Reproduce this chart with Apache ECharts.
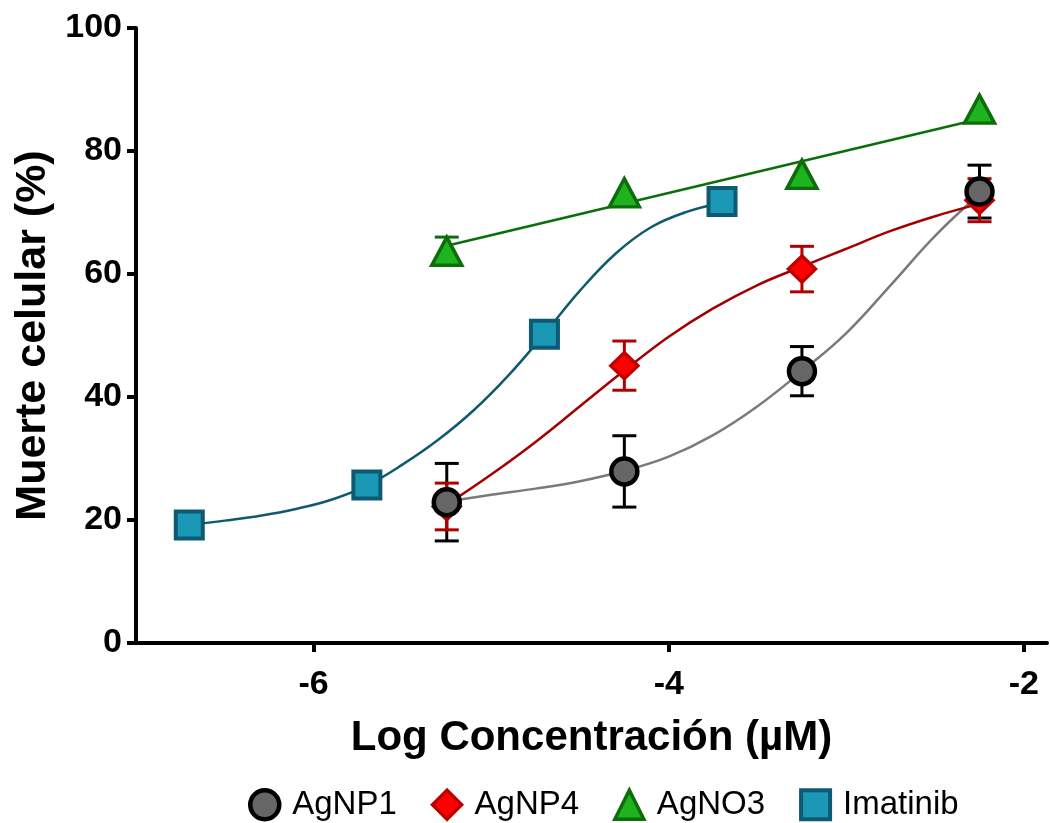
<!DOCTYPE html>
<html>
<head>
<meta charset="utf-8">
<script src="https://cdn.jsdelivr.net/npm/echarts@6/dist/echarts.min.js"></script>
<style>
html,body{margin:0;padding:0;background:#fff;}
#chart{width:1050px;height:823px;}
</style>
</head>
<body>
<div id="chart"></div>
<script>
// ---- data ----
const seriesNames = ['AgNP1', 'AgNP4', 'AgNO3', 'Imatinib'];
const xTicks = [-6, -4, -2];
const yTicks = [0, 20, 40, 60, 80, 100];

const xNP = [-5.25, -4.25, -3.25, -2.25];
const xIma = [-6.7, -5.7, -4.7, -3.7];

const agnp1 = [22.9, 27.9, 44.2, 73.4];
const agnp1Err = [6.3, 5.8, 4.0, 4.3];
const agnp4 = [22.2, 45.1, 60.8, 72.0];
const agnp4Err = [3.8, 4.0, 3.7, 3.5];
const agno3 = [63.7, 73.2, 76.2, 86.8];
const agno3Err = [2.3, 0, 0, 0];
const imatinib = [19.2, 25.7, 50.2, 71.8];

// fitted curves
const agnp1FitX = [-5.25, -5.0, -4.75, -4.5, -4.25, -4.0, -3.75, -3.5, -3.25, -3.0, -2.75, -2.5, -2.25];
const agnp1FitY = [23.0, 24.1, 25.1, 26.3, 28.0, 30.3, 33.8, 38.5, 44.2, 50.4, 58.2, 66.2, 73.0];
const agnp4FitX = [-5.25, -5.0, -4.75, -4.5, -4.25, -4.0, -3.75, -3.5, -3.25, -3.0, -2.75, -2.5, -2.25];
const agnp4FitY = [22.5, 27.4, 32.7, 38.5, 44.3, 49.8, 54.4, 58.2, 61.2, 64.1, 67.0, 69.4, 71.4];
const agno3FitX = [-5.25, -2.25];
const agno3FitY = [64.6, 85.2];
const imaFitX = [-6.7, -6.5, -6.3, -6.1, -5.9, -5.7, -5.5, -5.3, -5.1, -4.9, -4.7, -4.5, -4.3, -4.1, -3.9, -3.7];
const imaFitY = [19.2, 19.9, 20.7, 21.8, 23.3, 25.6, 29.0, 33.0, 37.8, 43.6, 50.3, 57.3, 63.3, 67.6, 70.1, 71.6];

// ---- helpers ----
const zip = (xs, ys) => xs.map((x, i) => [x, ys[i]]);
const zip3 = (xs, ys, es) => xs.map((x, i) => [x, ys[i], es[i]]);
const FONT = "'Liberation Sans', Arial, sans-serif";

const styles = {
  AgNP1: { symbol: 'circle', fill: '#666666', border: '#000000', bw: 4.5 },
  AgNP4: { symbol: 'diamond', fill: '#ff0000', border: '#c00000', bw: 3.5 },
  AgNO3: { symbol: 'triangle', fill: '#1fb31f', border: '#0b6e0b', bw: 3.5 },
  Imatinib: { symbol: 'rect', fill: '#1a98b6', border: '#0d5a72', bw: 4 }
};

function errRender(color) {
  return function (params, api) {
    const x = api.value(0), y = api.value(1), e = api.value(2);
    if (!e) return null;
    const top = api.coord([x, y + e]);
    const bot = api.coord([x, y - e]);
    const w = 12;
    const st = { stroke: color, lineWidth: 3 };
    return {
      type: 'group',
      children: [
        { type: 'line', shape: { x1: top[0], y1: top[1], x2: bot[0], y2: bot[1] }, style: st },
        { type: 'line', shape: { x1: top[0] - w, y1: top[1], x2: top[0] + w, y2: top[1] }, style: st },
        { type: 'line', shape: { x1: bot[0] - w, y1: bot[1], x2: bot[0] + w, y2: bot[1] }, style: st }
      ]
    };
  };
}

function fitLine(name, xs, ys, color) {
  return {
    name: name, type: 'line', data: zip(xs, ys), smooth: 0.4, showSymbol: false,
    symbol: 'none', lineStyle: { color: color, width: 2.5 }, silent: true, z: 2
  };
}
function errSeries(name, xs, ys, es, color) {
  return {
    name: name, type: 'custom', data: zip3(xs, ys, es), renderItem: errRender(color),
    encode: { x: 0, y: 1 }, silent: true, z: 3
  };
}
function pts(name, xs, ys, size) {
  const s = styles[name];
  return {
    name: name, type: 'scatter', data: zip(xs, ys), symbol: s.symbol, symbolSize: size,
    itemStyle: { color: s.fill, borderColor: s.border, borderWidth: s.bw, opacity: 1 }, z: 4
  };
}

const chart = echarts.init(document.getElementById('chart'), null, { renderer: 'canvas' });
chart.setOption({
  backgroundColor: '#ffffff',
  animation: false,
  textStyle: { fontFamily: FONT },
  grid: { left: 136, right: 3, top: 28, bottom: 180, containLabel: false },
  legend: {
    data: seriesNames.map(n => ({
      name: n, icon: styles[n].symbol,
      itemStyle: { color: styles[n].fill, borderColor: styles[n].border, borderWidth: styles[n].bw }
    })),
    left: 243, top: 783,
    itemWidth: 29, itemHeight: 29, itemGap: 34,
    textStyle: { fontSize: 33, color: '#000', fontFamily: FONT, padding: [0, 0, 0, 8] }
  },
  xAxis: {
    type: 'value', min: -7, max: -1.87,
    name: 'Log Concentración (µM)', nameLocation: 'middle', nameGap: 74,
    nameTextStyle: { fontSize: 42, fontWeight: 'bold', color: '#000', fontFamily: FONT },
    axisLine: { show: true, onZero: false, lineStyle: { color: '#000', width: 4 } },
    axisTick: { show: true, length: 9, customValues: xTicks, lineStyle: { color: '#000', width: 4 } },
    axisLabel: { customValues: xTicks, fontSize: 34, fontWeight: 'bold', color: '#000', margin: 25, fontFamily: FONT },
    splitLine: { show: false }
  },
  yAxis: {
    type: 'value', min: 0, max: 100, interval: 20,
    name: 'Muerte celular (%)', nameLocation: 'middle', nameGap: 78, nameRotate: 90,
    nameTextStyle: { fontSize: 43, fontWeight: 'bold', color: '#000', fontFamily: FONT },
    axisLine: { show: true, lineStyle: { color: '#000', width: 4 } },
    axisTick: { show: true, length: 9, lineStyle: { color: '#000', width: 4 } },
    axisLabel: { fontSize: 34, fontWeight: 'bold', color: '#000', margin: 14, fontFamily: FONT,
      customValues: yTicks },
    splitLine: { show: false }
  },
  series: [
    fitLine('Imatinib fit', imaFitX, imaFitY, '#0f5a6e'),
    fitLine('AgNO3 fit', agno3FitX, agno3FitY, '#0b6e0b'),
    fitLine('AgNP1 fit', agnp1FitX, agnp1FitY, '#7a7a7a'),
    fitLine('AgNP4 fit', agnp4FitX, agnp4FitY, '#a50000'),
    pts('Imatinib', xIma, imatinib, 27),
    errSeries('AgNO3 err', xNP, agno3, agno3Err, '#0b6e0b'),
    pts('AgNO3', xNP, agno3, [30, 28]),
    errSeries('AgNP1 err', xNP, agnp1, agnp1Err, '#000000'),
    errSeries('AgNP4 err', xNP, agnp4, agnp4Err, '#b00000'),
    pts('AgNP4', xNP, agnp4, [27, 26]),
    pts('AgNP1', xNP, agnp1, 26)
  ]
});
</script>
</body>
</html>
